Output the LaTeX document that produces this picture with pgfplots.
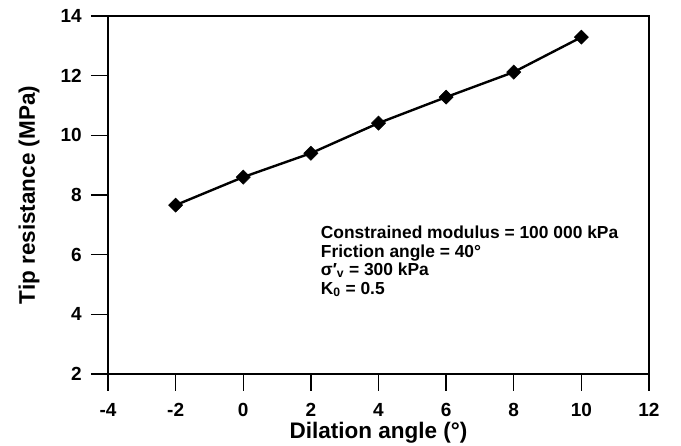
\documentclass[border=0pt]{standalone}
\usepackage{fontspec}
\setmainfont{Liberation Sans}
\usepackage{pgfplots}
\pgfplotsset{compat=1.18}

\begin{document}
\begin{tikzpicture}
\begin{axis}[
    scale only axis,
    width=541pt, height=358pt,
    xmin=-4, xmax=12, ymin=2, ymax=14,
    xtick={-4,-2,...,12},
    ytick={2,4,...,14},
    tick align=outside,
    xtick pos=left, ytick pos=left,
    major tick length=17pt,
    axis line style={line width=1.4pt},
    every tick/.style={line width=1.4pt, black},
    /pgf/number format/assume math mode=true,
    ticklabel style={font=\bfseries\fontsize{19}{19}\selectfont, inner sep=0pt},
    xticklabel style={anchor=north, yshift=-12pt},
    yticklabel style={anchor=east, xshift=-9pt},
    xlabel={\bfseries Dilation angle (°)},
    ylabel={\bfseries Tip resistance (MPa)},
    label style={font=\bfseries\fontsize{22.5}{22.5}\selectfont, inner sep=0pt},
    xlabel style={at={(axis description cs:0.5,0)}, anchor=base, yshift=-65pt},
    ylabel style={at={(axis description cs:-0.146,0.5)}, anchor=center},
    clip=false,
]
\addplot[black, line width=2.4pt, mark=square*, mark size=5pt, mark options={solid, rotate=45, line width=0.5pt}]
coordinates {
    (-2, 7.66)
    (0, 8.60)
    (2, 9.40)
    (4, 10.41)
    (6, 11.28)
    (8, 12.12)
    (10, 13.29)
};
\begin{scope}[every node/.style={anchor=base west, inner sep=0pt, font=\bfseries\fontsize{17.4}{17.4}\selectfont}]
\node at (axis cs:2.29,6.54) {Constrained modulus = 100 000 kPa};
\node at (axis cs:2.29,5.92) {Friction angle = 40°};
\node at (axis cs:2.29,5.31) {σ′\textsubscript{v} = 300 kPa};
\node at (axis cs:2.29,4.67) {K\textsubscript{0} = 0.5};
\end{scope}
\end{axis}
\pgfresetboundingbox
\path (-108pt,-72pt) rectangle (573pt,374pt);
\end{tikzpicture}
\end{document}
